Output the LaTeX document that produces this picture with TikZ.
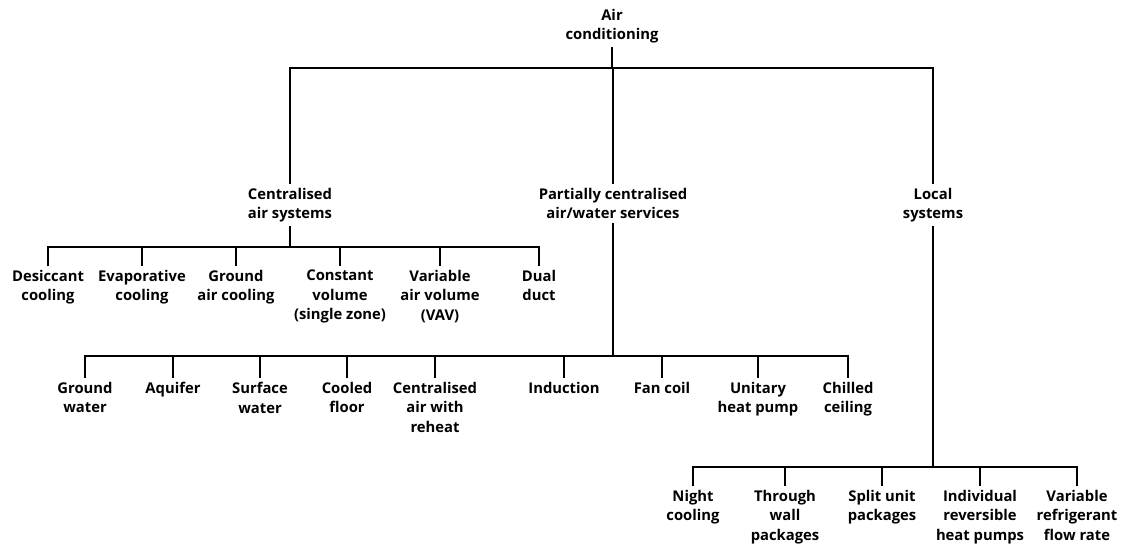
\documentclass[tikz,border=0pt]{standalone}
\usepackage{fontspec}
\setmainfont{Open Sans}
\begin{document}
\begin{tikzpicture}[x=1pt,y=-1pt,
  lbl/.style={font=\fontsize{14.8}{19.5}\selectfont\bfseries, align=center, inner sep=5pt, anchor=north},
  conn/.style={line width=2.8pt, line cap=rect}]
\useasboundingbox (0,0) rectangle (1121,549);
% bar levels
\coordinate (b0) at (0,68);
\coordinate (b1) at (0,247);
\coordinate (b2) at (0,356);
\coordinate (b3) at (0,467);
% root
\node[lbl] (ac) at (612,4) {Air\\conditioning};
% level 1
\node[lbl] (cen) at (290,183) {Centralised\\air systems};
\node[lbl] (par) at (613,183) {Partially centralised\\air/water services};
\node[lbl] (loc) at (933,183) {Local\\systems};
% centralised children
\node[lbl] (c1) at (48,265) {Desiccant\\cooling};
\node[lbl] (c2) at (142,265) {Evaporative\\cooling};
\node[lbl] (c3) at (236,265) {Ground\\air cooling};
\node[lbl] (c4) at (340,265) {Constant\\volume\\(single zone)};
\node[lbl] (c5) at (440,265) {Variable\\air volume\\(VAV)};
\node[lbl] (c6) at (539,265) {Dual\\duct};
% partially centralised children
\node[lbl] (p1) at (85,377) {Ground\\water};
\node[lbl] (p2) at (173,377) {Aquifer};
\node[lbl] (p3) at (260,377) {Surface\\water};
\node[lbl] (p4) at (347,377) {Cooled\\floor};
\node[lbl] (p5) at (435,377) {Centralised\\air with\\reheat};
\node[lbl] (p6) at (564,377) {Induction};
\node[lbl] (p7) at (662,377) {Fan coil};
\node[lbl] (p8) at (758,377) {Unitary\\heat pump};
\node[lbl] (p9) at (848,377) {Chilled\\ceiling};
% local children
\node[lbl] (l1) at (693,485) {Night\\cooling};
\node[lbl] (l2) at (785,485) {Through\\wall\\packages};
\node[lbl] (l3) at (882,485) {Split unit\\packages};
\node[lbl] (l4) at (980,485) {Individual\\reversible\\heat pumps};
\node[lbl] (l5) at (1077,485) {Variable\\refrigerant\\flow rate};
% connectors
\foreach \c in {cen,par,loc}
  \draw[conn] (ac.south) |- (b0 -| \c.north) -- (\c.north);
\foreach \c in {c1,c2,c3,c4,c5,c6}
  \draw[conn] (cen.south) |- (b1 -| \c.north) -- (\c.north);
\foreach \c in {p1,p2,p3,p4,p5,p6,p7,p8,p9}
  \draw[conn] (par.south) |- (b2 -| \c.north) -- (\c.north);
\foreach \c in {l1,l2,l3,l4,l5}
  \draw[conn] (loc.south) |- (b3 -| \c.north) -- (\c.north);
\end{tikzpicture}
\end{document}
